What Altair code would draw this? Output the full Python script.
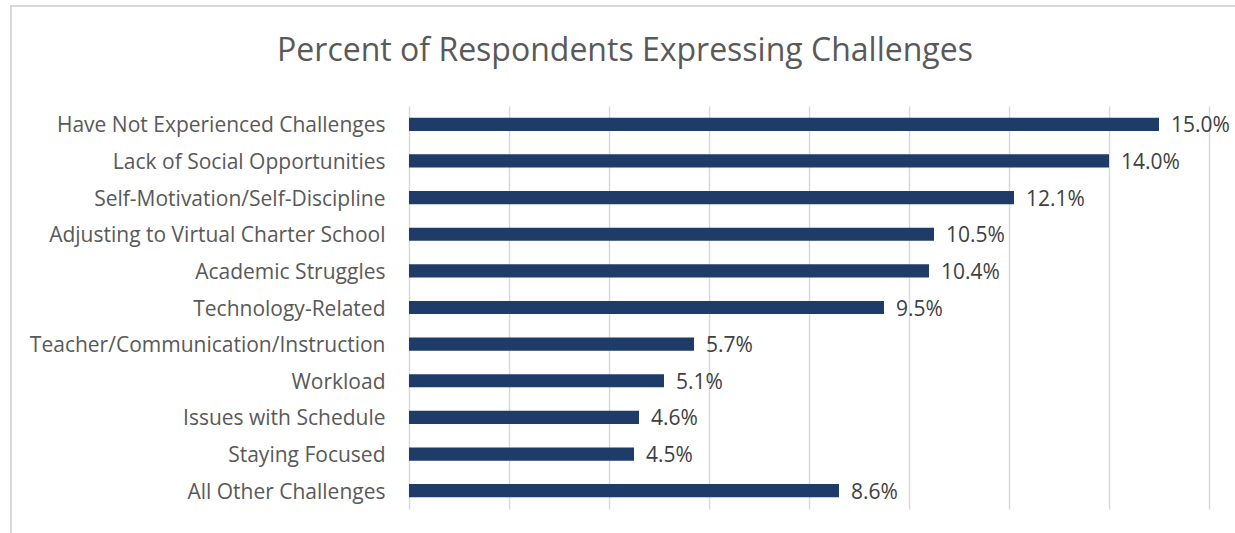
import altair as alt
import pandas as pd

categories = [
    "Have Not Experienced Challenges",
    "Lack of Social Opportunities",
    "Self-Motivation/Self-Discipline",
    "Adjusting to Virtual Charter School",
    "Academic Struggles",
    "Technology-Related",
    "Teacher/Communication/Instruction",
    "Workload",
    "Issues with Schedule",
    "Staying Focused",
    "All Other Challenges",
]
values = [15.0, 14.0, 12.1, 10.5, 10.4, 9.5, 5.7, 5.1, 4.6, 4.5, 8.6]

df = pd.DataFrame({"cat": categories, "val": values})

FONT = "Open Sans"

y_enc = alt.Y("cat:N", sort=None, title=None,
              scale=alt.Scale(paddingInner=0.64, paddingOuter=0.32),
              axis=alt.Axis(labelFontSize=21, labelColor="#595959", labelFont=FONT,
                            labelPadding=24, labelOffset=2, ticks=False, domain=False,
                            grid=False, labelLimit=400))
x_enc = alt.X("val:Q", title=None,
              scale=alt.Scale(domain=[0, 16], nice=False),
              axis=alt.Axis(values=[0, 2, 4, 6, 8, 10, 12, 14, 16], labels=False,
                            ticks=False, domain=False, grid=True,
                            gridColor="#d9d9d9", gridWidth=1.5))

bars = alt.Chart(df).mark_bar(color="#1F3B68").encode(y=y_enc, x=x_enc)

labels = alt.Chart(df).transform_calculate(
    lab="format(datum.val, '.1f') + '%'"
).mark_text(align="left", baseline="middle", dx=12, dy=2, fontSize=21,
            font=FONT, color="#404040").encode(
    y=alt.Y("cat:N", sort=None),
    x=alt.X("val:Q"),
    text="lab:N",
)

frame = alt.Chart(pd.DataFrame({"a": [0]})).mark_rect(
    fill=None, stroke="#d9d9d9", strokeWidth=2
).encode(x=alt.value(-398), x2=alt.value(1000), y=alt.value(-100), y2=alt.value(600))

chart = alt.layer(frame, bars, labels).properties(
    width=800, height=403,
    title=alt.TitleParams("Percent of Respondents Expressing Challenges",
                          fontSize=32, font=FONT, color="#595959", fontWeight="normal",
                          anchor="middle", frame="group", dx=-184, offset=-88,
                          baseline="alphabetic"),
    autosize=alt.AutoSizeParams(type="none"),
    padding={"left": 409, "top": 106, "right": 26, "bottom": 24},
).configure(background="white").configure_view(stroke=None)

chart.save("out.html", embed_options={"renderer": "svg", "actions": False})
